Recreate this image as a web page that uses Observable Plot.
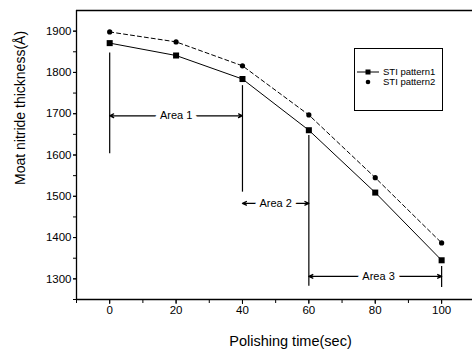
<!DOCTYPE html>
<html><head><meta charset="utf-8">
<script src="https://cdn.jsdelivr.net/npm/d3@7"></script>
<script src="https://cdn.jsdelivr.net/npm/@observablehq/plot@0.6"></script>
<style>body{margin:0;background:#fff} svg{display:block}</style>
</head><body><div id="chart"></div>
<script>
const times = [0, 20, 40, 60, 80, 100];
const pattern1 = [1871, 1841, 1784, 1660, 1509, 1345];
const pattern2 = [1898, 1874, 1816, 1697, 1545, 1387];
const seriesNames = ["STI pattern1", "STI pattern2"];
const xTicks = [0, 20, 40, 60, 80, 100];
const xMinor = [-10, 0, 10, 20, 30, 40, 50, 60, 70, 80, 90, 100];
const yTicks = [1300, 1400, 1500, 1600, 1700, 1800, 1900];
const yMinor = [1250, 1300, 1350, 1400, 1450, 1500, 1550, 1600, 1650, 1700, 1750, 1800, 1850, 1900];
const xDomain = [-10, 109.3];
const yDomain = [1250, 1950];
const areaLabels = ["Area 1", "Area 2", "Area 3"];
const areaStart = [0, 40, 60];
const areaEnd = [40, 60, 100];
const areaLevel = [1695, 1483, 1306];
const areaLabelX = [20, 50, 81];
const dividerX = [0, 40, 60, 100];
const dividerTop = [1847, 1768, 1647, 1330];
const dividerBottom = [1603, 1510, 1282, 1279];
const xTitle = "Polishing time(sec)";
const yTitle = "Moat nitride thickness(Å)";

const s1 = times.map((t, i) => ({t, v: pattern1[i]}));
const s2 = times.map((t, i) => ({t, v: pattern2[i]}));
const areas = areaLabels.map((label, i) => ({label, start: areaStart[i], end: areaEnd[i], y: areaLevel[i], mid: areaLabelX[i]}));
const dividers = dividerX.map((x, i) => ({x, y1: dividerTop[i], y2: dividerBottom[i]}));

const svg = Plot.plot({
  width: 472, height: 356,
  marginLeft: 76, marginRight: 0, marginTop: 10, marginBottom: 57,
  style: {fontFamily: "'Liberation Sans', Arial, sans-serif", color: "#000", background: "#fff"},
  x: {domain: xDomain},
  y: {domain: yDomain},
  marks: [
    Plot.ruleY([yDomain[1]], {stroke: "#000", strokeWidth: 1.3}),
    Plot.ruleY([yDomain[0]], {stroke: "#000", strokeWidth: 1.3}),
    Plot.ruleX([xDomain[0]], {stroke: "#000", strokeWidth: 1.3}),
    Plot.axisY({ticks: yMinor, tickFormat: () => "", tickSize: 3, label: null}),
    Plot.axisY({ticks: yTicks, tickSize: 3, tickPadding: 2, fontSize: 11.5, label: null, tickFormat: d => String(d)}),
    Plot.axisX({ticks: xMinor, tickFormat: () => "", tickSize: 4, label: null}),
    Plot.axisX({ticks: xTicks, tickSize: 5, tickPadding: 1, fontSize: 11.5, label: null}),
    Plot.text([xTitle], {frameAnchor: "bottom", dx: 16, dy: 46, fontSize: 14.5, fill: "#000"}),
    Plot.text([yTitle], {frameAnchor: "left", rotate: -90, dx: -56, dy: 30, fontSize: 14, fill: "#000"}),
    Plot.ruleX(dividers, {x: "x", y1: "y1", y2: "y2", stroke: "#000", strokeWidth: 1.2}),
    Plot.arrow(areas, {x1: "mid", x2: "start", y1: "y", y2: "y", headLength: 5, headAngle: 50, strokeWidth: 1.3, stroke: "#000"}),
    Plot.arrow(areas, {x1: "mid", x2: "end", y1: "y", y2: "y", headLength: 5, headAngle: 50, strokeWidth: 1.3, stroke: "#000"}),
    Plot.text(areas, {x: "mid", y: "y", text: "label", fontSize: 11, fill: "#000", stroke: "#fff", strokeWidth: 10}),
    Plot.line(s1, {x: "t", y: "v", stroke: "#000", strokeWidth: 1}),
    Plot.line(s2, {x: "t", y: "v", stroke: "#000", strokeWidth: 1, strokeDasharray: "4,3"}),
    Plot.dot(s1, {x: "t", y: "v", symbol: "square", r: 3.4, fill: "#000"}),
    Plot.dot(s2, {x: "t", y: "v", symbol: "circle", r: 2.6, fill: "#000"})
  ]
});

const g = d3.select(svg).append("g")
  .attr("font-family", "'Liberation Sans', Arial, sans-serif")
  .attr("text-anchor", "start");
g.append("rect").attr("x", 354.5).attr("y", 48.5).attr("width", 88).attr("height", 62)
  .attr("fill", "#fff").attr("stroke", "#000").attr("stroke-width", 1);
const legendY = [72, 82];
seriesNames.forEach((name, i) => {
  const y = legendY[i];
  if (i === 0) {
    g.append("line").attr("x1", 357).attr("x2", 379).attr("y1", y).attr("y2", y).attr("stroke", "#000");
    g.append("rect").attr("x", 365.5).attr("y", y - 2.5).attr("width", 5).attr("height", 5).attr("fill", "#000");
  } else {
    g.append("circle").attr("cx", 368).attr("cy", y).attr("r", 2.3).attr("fill", "#000");
  }
  g.append("text").attr("x", 383).attr("y", y).attr("dy", "0.35em").attr("text-anchor", "start")
    .attr("font-size", 9.5).attr("fill", "#000").text(name);
});

document.getElementById("chart").appendChild(svg);
</script>
</body></html>
